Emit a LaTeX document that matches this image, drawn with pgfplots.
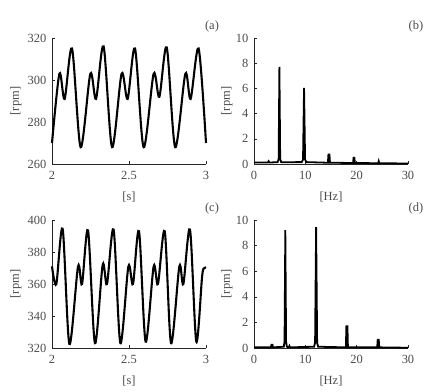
\documentclass[border=0pt]{standalone}
\usepackage{fontspec}
\setmainfont{Liberation Serif}
\usepackage{pgfplots}
\pgfplotsset{compat=1.18}
\definecolor{txt}{RGB}{75,75,75}
\pgfplotsset{
  myax/.style={
    scale only axis, width=154bp,
    axis x line*=bottom, axis y line*=left,
    tick align=inside, major tick length=3bp,
    every tick/.style={black!85, line width=0.5pt},
    axis line style={black!85, line width=0.6pt},
    tick label style={font=\fontsize{12.5}{13}\selectfont, text=txt},
    yticklabel style={inner xsep=5.5bp},
    xticklabel style={yshift=-4bp},
    label style={font=\fontsize{12.5}{13}\selectfont, text=txt},
    xlabel style={at={(axis description cs:0.5,0)}, anchor=north, yshift=-24bp},
    /pgf/number format/assume math mode=true,
    clip=false,
  },
  sig/.style={myax, xmin=2, xmax=3, xtick={2,2.5,3},
    ylabel style={at={(axis description cs:0,0.5)}, anchor=center, rotate=0, yshift=36bp}},
  spec/.style={myax, xmin=0, xmax=30, xtick={0,10,20,30}, ymin=0, ymax=10, ytick={0,2,4,6,8,10},
    ylabel style={at={(axis description cs:0,0.5)}, anchor=center, rotate=0, yshift=27bp}},
}
\begin{document}
\begin{tikzpicture}
\path[use as bounding box] (0,0) rectangle (442bp,392bp);
% (a)
\begin{axis}[sig, at={(52bp,228bp)}, anchor=south west, height=126bp,
  ymin=260, ymax=320, ytick={260,280,300,320}, xlabel={[s]}, ylabel={[rpm]}]
\addplot[black, line width=2.1pt, smooth] coordinates {
(2.000,270) (2.048,303) (2.082,291) (2.130,315) (2.186,268)
(2.249,303) (2.286,291) (2.335,316) (2.390,268)
(2.452,303) (2.491,291) (2.539,315) (2.595,268)
(2.660,303) (2.697,292) (2.745,315.5) (2.800,268)
(2.866,303) (2.900,291) (2.952,315) (3.000,270)};
\end{axis}
% (b)
\begin{axis}[spec, at={(254bp,228bp)}, anchor=south west, height=126bp,
  xlabel={[Hz]}, ylabel={[rpm]}]
\addplot[black, line width=1.8pt, sharp plot] coordinates {
(0,0.12) (2.7,0.12) (2.85,0.22) (3.0,0.12) (4.6,0.14) (4.8,0.4) (4.95,7.7) (5.1,0.4) (5.3,0.14)
(9.3,0.15) (9.55,0.35) (9.75,6.05) (9.95,0.35) (10.2,0.15)
(14.4,0.1) (14.5,0.75) (14.7,0.75) (14.8,0.1)
(19.3,0.08) (19.4,0.5) (19.55,0.5) (19.65,0.08)
(24.2,0.06) (24.3,0.22) (24.4,0.06) (30,0.04)};
\end{axis}
% (c)
\begin{axis}[sig, at={(52bp,44bp)}, anchor=south west, height=128bp,
  ymin=320, ymax=400, ytick={320,340,360,380,400}, xlabel={[s]}, ylabel={[rpm]}]
\addplot[black, line width=2.1pt, smooth] coordinates {
(2.000,371) (2.028,360) (2.069,394.5) (2.113,322.5)
(2.169,371) (2.195,360) (2.234,393.5) (2.279,323)
(2.329,372) (2.357,360) (2.400,394) (2.444,323)
(2.496,371) (2.526,360) (2.565,393) (2.608,324)
(2.660,371) (2.688,360) (2.732,393) (2.773,323)
(2.827,371) (2.853,360) (2.896,394) (2.937,324)
(2.975,365) (2.990,370) (3.000,370.5)};
\end{axis}
% (d)
\begin{axis}[spec, at={(254bp,44bp)}, anchor=south west, height=128bp,
  xlabel={[Hz]}, ylabel={[rpm]}]
\addplot[black, line width=1.8pt, sharp plot] coordinates {
(0,0.05) (3.3,0.05) (3.4,0.25) (3.6,0.25) (3.7,0.05)
(5.8,0.1) (5.95,0.5) (6.1,9.2) (6.25,0.5) (6.4,0.1) (6.8,0.05) (6.9,0.15) (7.0,0.05)
(11.7,0.1) (11.9,0.4) (12.1,9.45) (12.3,0.4) (12.5,0.1)
(17.9,0.05) (18.0,1.7) (18.2,1.7) (18.3,0.05)
(24.0,0.05) (24.1,0.65) (24.3,0.65) (24.4,0.05) (30,0.02)};
\end{axis}
\node[font=\fontsize{12.5}{13}\selectfont, text=txt] at (212bp,365bp) {(a)};
\node[font=\fontsize{12.5}{13}\selectfont, text=txt] at (416bp,365bp) {(b)};
\node[font=\fontsize{12.5}{13}\selectfont, text=txt] at (212bp,183bp) {(c)};
\node[font=\fontsize{12.5}{13}\selectfont, text=txt] at (416bp,183bp) {(d)};
\end{tikzpicture}
\end{document}
